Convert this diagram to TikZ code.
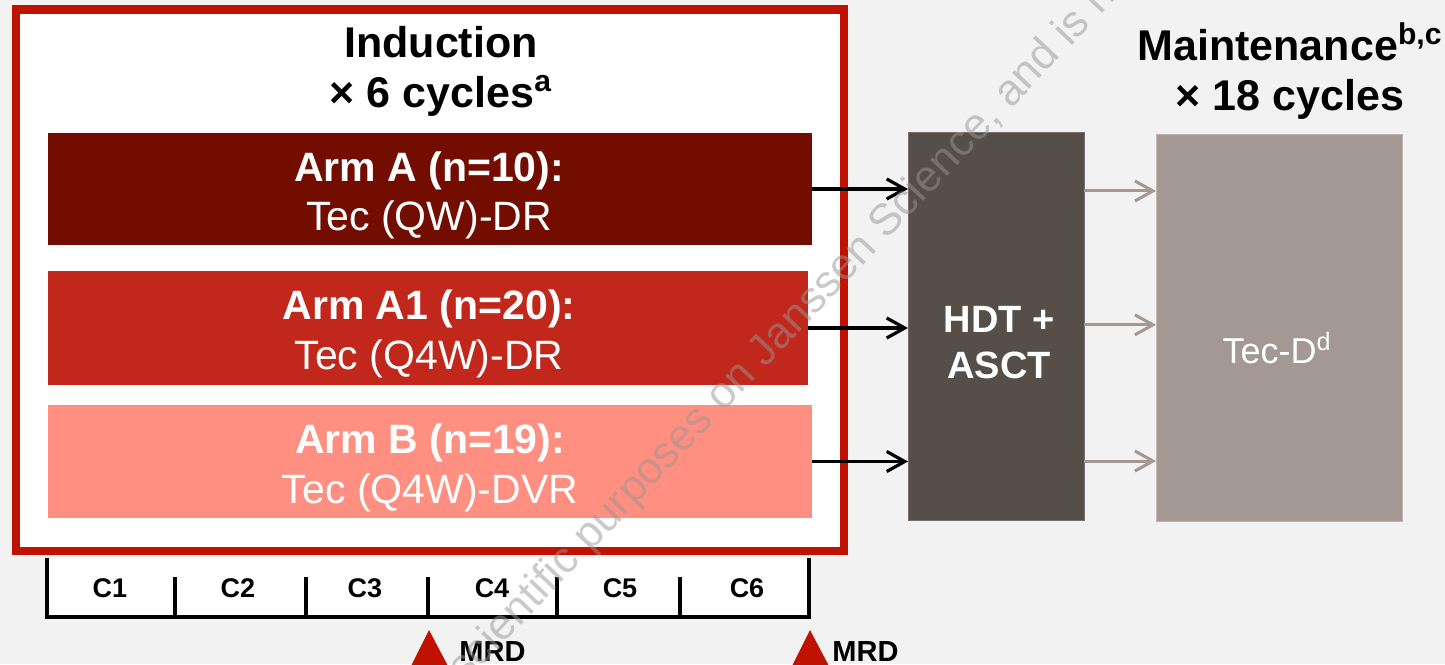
\documentclass[tikz,border=0pt]{standalone}
\usepackage{fontspec}
\setmainfont{Liberation Sans}
\usetikzlibrary{arrows.meta,calc,fit}
\definecolor{bgc}{HTML}{F2F2F2}
\definecolor{framered}{RGB}{192,18,0}
\definecolor{armAc}{RGB}{114,13,0}
\definecolor{armAonec}{RGB}{193,40,27}
\definecolor{armBc}{RGB}{255,143,128}
\definecolor{hdtc}{RGB}{85,78,73}
\definecolor{maintc}{RGB}{163,152,147}
\definecolor{wmc}{RGB}{150,150,150}
\tikzset{
  panel/.style={rectangle, inner sep=0pt, outer sep=0pt, draw=none},
  hdrtext/.style={font=\fontsize{21.5pt}{25pt}\selectfont\bfseries, text=black, inner sep=0pt, anchor=base},
  armtitle/.style={font=\fontsize{20.5pt}{24pt}\selectfont\bfseries, text=white, inner sep=0pt, anchor=base},
  armsub/.style={font=\fontsize{20.5pt}{24pt}\selectfont, text=white, inner sep=0pt, anchor=base},
  hdttext/.style={font=\fontsize{19pt}{22pt}\selectfont\bfseries, text=white, inner sep=0pt, anchor=base},
  mainttext/.style={font=\fontsize{18pt}{22pt}\selectfont, text=white, inner sep=0pt, anchor=base},
  cyc/.style={font=\fontsize{13.5pt}{16pt}\selectfont\bfseries, text=black, inner sep=0pt, anchor=base},
  mrd/.style={font=\fontsize{14.5pt}{17pt}\selectfont\bfseries, text=black, inner sep=0pt, anchor=base west},
  tl/.style={line width=1.7pt, draw=black},
  blackarrow/.style={line width=1.6pt, draw=black, -{Straight Barb[length=9pt,width=10pt,line width=1.6pt]}},
  grayarrow/.style={line width=1.5pt, draw=maintc, -{Straight Barb[length=9pt,width=10pt,line width=1.5pt]}},
  wmtext/.style={font=\fontsize{22pt}{26pt}\selectfont, text=wmc, text opacity=0.5, inner sep=0pt},
}
\begin{document}
\begin{tikzpicture}[x=0.5pt,y=-0.5pt]
\useasboundingbox (0,0) rectangle (1445,664);
\fill[bgc] (0,0) rectangle (1445,664);

% Induction frame
\node[panel, draw=framered, line width=4.25pt, fill=white, fit={(16,9.5) (844,551)}] (induction) {};
\node[hdrtext] (indt1) at (441,57) {Induction};
\node[hdrtext] (indt2) at (441,107) {× 6 cycles\textsuperscript{a}};

% Arms
\node[panel, fill=armAc, fit={(48,133) (812,245)}] (armA) {};
\node[panel, fill=armAonec, fit={(48,271) (808,385)}] (armAone) {};
\node[panel, fill=armBc, fit={(48,405) (812,518)}] (armB) {};
\node[armtitle] (armAt) at (429,181) {Arm A (n=10):};
\node[armsub] (armAs) at (429,230) {Tec (QW)-DR};
\node[armtitle] (armAonet) at (429,319) {Arm A1 (n=20):};
\node[armsub] (armAones) at (429,369) {Tec (Q4W)-DR};
\node[armtitle] (armBt) at (430,453) {Arm B (n=19):};
\node[armsub] (armBs) at (430,503) {Tec (Q4W)-DVR};

% HDT + ASCT
\node[panel, fill=hdtc, draw=hdtc!80!white, line width=0.4pt, fit={(908,132) (1084,520)}] (hdt) {};
\node[hdttext] (hdtt1) at (999,332) {HDT +};
\node[hdttext] (hdtt2) at (999,378) {ASCT};

% Maintenance
\node[hdrtext] (mt1) at (1290,60) {Maintenance\textsuperscript{b,c}};
\node[hdrtext] (mt2) at (1290,110) {× 18 cycles};
\node[panel, fill=maintc, draw=maintc!70!white, line width=0.4pt, fit={(1156,134) (1402,521)}] (maint) {};
\node[mainttext] (maintt) at (1277,363) {Tec-D\textsuperscript{d}};

% arrows
\draw[blackarrow] (armA.east) -- (armA.east -| hdt.west);
\draw[blackarrow] (armAone.east) -- (armAone.east -| hdt.west);
\draw[blackarrow] (armB.east) -- (armB.east -| hdt.west);
\coordinate (g1) at ($(hdt.north east)!0.152!(hdt.south east)$);
\coordinate (g2) at ($(hdt.north east)!0.497!(hdt.south east)$);
\coordinate (g3) at ($(hdt.north east)!0.848!(hdt.south east)$);
\draw[grayarrow] (g1) -- (g1 -| maint.west);
\draw[grayarrow] (g2) -- (g2 -| maint.west);
\draw[grayarrow] (g3) -- (g3 -| maint.west);

% timeline
\node[panel, fill=white, fit={(47,558) (809,617)}] (timeline) {};
\draw[tl] (47,558) -- (47,617) -- (809,617) -- (809,558);
\foreach \tx in {175,306,428,557,680} {\draw[tl] (\tx,577) -- (\tx,617);}
\node[cyc] (c1) at (110,597) {C1};
\node[cyc] (c2) at (238,597) {C2};
\node[cyc] (c3) at (365,597) {C3};
\node[cyc] (c4) at (492,597) {C4};
\node[cyc] (c5) at (620,597) {C5};
\node[cyc] (c6) at (747,597) {C6};

% MRD markers
\fill[framered] (411,666) -- (429,630) -- (448,666) -- cycle;
\fill[framered] (792,666) -- (810,630) -- (829,666) -- cycle;
\node[mrd] (mrd1) at (459,661) {MRD};
\node[mrd] (mrd2) at (832,661) {MRD};

% watermark
\begin{scope}
\clip (0,0) rectangle (1445,664);
\node[wmtext, rotate=46.5, anchor=base west] (wm) at (590,553) {\llap{scientific }purposes on Janssen Science, and is not};
\end{scope}
\end{tikzpicture}
\end{document}
